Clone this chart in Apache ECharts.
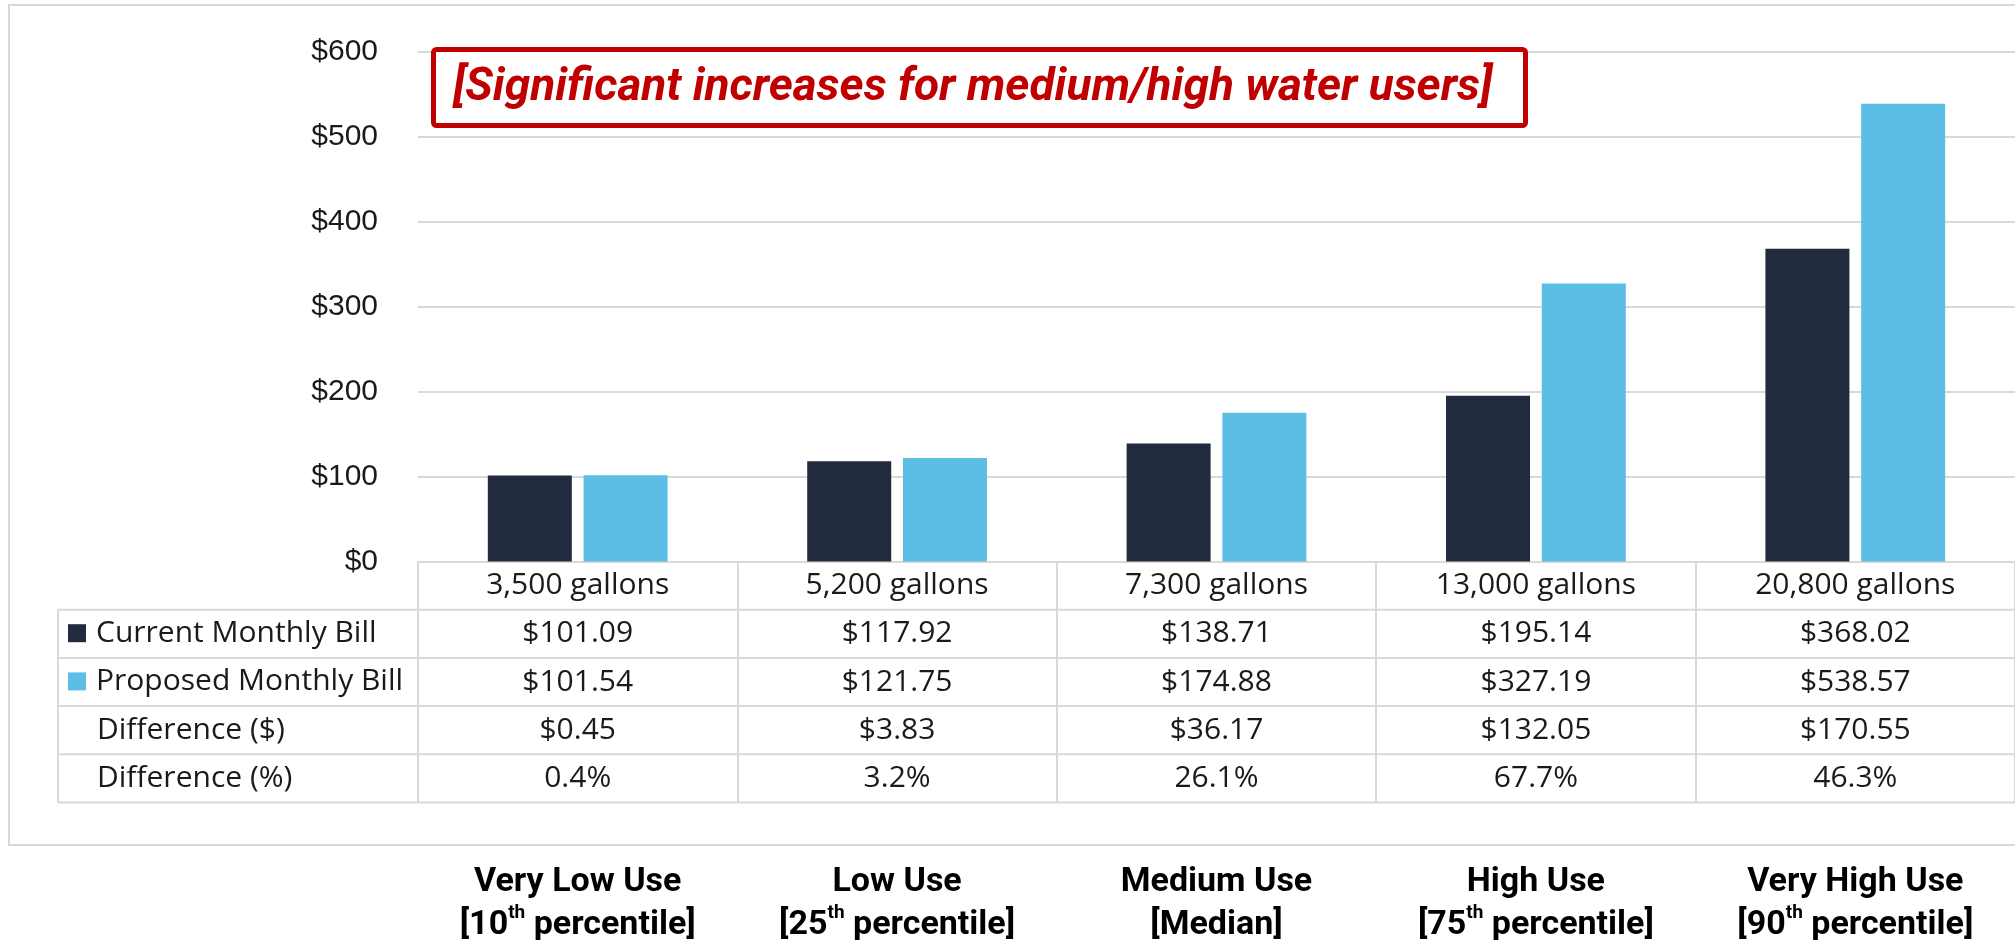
<!DOCTYPE html>
<html>
<head>
<meta charset="utf-8">
<title>Current vs proposed monthly bill</title>
<script src="https://cdn.jsdelivr.net/npm/echarts@6/dist/echarts.min.js"></script>
<style>
html, body { margin: 0; padding: 0; background: #fff; }
#main { width: 2015px; height: 940px; }
</style>
</head>
<body>
<div id="main"></div>
<script>
var gallons = ['3,500 gallons', '5,200 gallons', '7,300 gallons', '13,000 gallons', '20,800 gallons'];
var useLevels = ['Very Low Use', 'Low Use', 'Medium Use', 'High Use', 'Very High Use'];
var percentiles = [['10', 'th'], ['25', 'th'], ['Median', ''], ['75', 'th'], ['90', 'th']];
var currentBill = [101.09, 117.92, 138.71, 195.14, 368.02];
var proposedBill = [101.54, 121.75, 174.88, 327.19, 538.57];
var diffDollar = ['$0.45', '$3.83', '$36.17', '$132.05', '$170.55'];
var diffPct = ['0.4%', '3.2%', '26.1%', '67.7%', '46.3%'];
var seriesNames = ['Current Monthly Bill', 'Proposed Monthly Bill'];
var extraRows = ['Difference ($)', 'Difference (%)'];
var yMin = 0, yMax = 600, yStep = 100;

var darkBlue = '#212B3D';
var lightBlue = '#5DBEE5';
var lineGrey = '#D9D9D9';
var tableFont = "'Open Sans', sans-serif";

// table geometry (the x axis line is the top of the table)
var gridLeft = 418, gridTop = 51.5, axisY = 561.5;
var rowH = 48.2;
var tableLeft = 58;

function money(v) { return '$' + v.toFixed(2); }

var graphics = [];
// outer frame
graphics.push({
    type: 'rect', silent: true, z: -1,
    shape: { x: 9, y: 5, width: 2030, height: 840 },
    style: { fill: 'none', stroke: lineGrey, lineWidth: 2 }
});
// horizontal table lines below the header row
for (var r = 1; r <= 5; r++) {
    graphics.push({
        type: 'line', silent: true,
        shape: { x1: tableLeft, y1: axisY + r * rowH, x2: 2015, y2: axisY + r * rowH },
        style: { stroke: lineGrey, lineWidth: 2 }
    });
}
graphics.push({
    type: 'line', silent: true,
    shape: { x1: tableLeft, y1: axisY + rowH, x2: tableLeft, y2: axisY + 5 * rowH },
    style: { stroke: lineGrey, lineWidth: 2 }
});
extraRows.forEach(function (t, i) {
    graphics.push({
        type: 'text', silent: true,
        x: 97, y: axisY + (3.5 + i) * rowH,
        style: { text: t, fontFamily: tableFont, fontSize: 30, fill: '#1a1a1a', verticalAlign: 'middle' }
    });
});
// annotation box
graphics.push({
    type: 'rect', silent: true, z: 100,
    shape: { x: 433.5, y: 49.5, width: 1092, height: 76, r: 3 },
    style: { fill: '#fff', stroke: '#C00000', lineWidth: 5 }
});
graphics.push({
    type: 'text', silent: true, z: 101,
    x: 453, y: 88,
    style: {
        text: '[Significant increases for medium/high water users]',
        fontFamily: 'Roboto', fontStyle: 'italic', fontWeight: 'bold', fontSize: 46,
        fill: '#C00000', verticalAlign: 'middle'
    }
});

var option = {
    animation: false,
    backgroundColor: '#fff',
    grid: {
        left: gridLeft, right: 0, top: gridTop, bottom: 940 - axisY,
        containLabel: false, outerBoundsMode: 'none'
    },
    legend: {
        orient: 'vertical', left: 68, top: axisY + rowH + 8.5,
        padding: 0,
        itemWidth: 18, itemHeight: 18, itemGap: rowH - 30,
        icon: 'rect', selectedMode: false,
        data: seriesNames,
        textStyle: { fontFamily: tableFont, fontSize: 30, lineHeight: 30, color: '#1a1a1a', padding: [0, 0, 0, 5] }
    },
    xAxis: [{
        type: 'category',
        data: gallons,
        axisLine: { show: true, lineStyle: { color: lineGrey, width: 2 } },
        axisTick: { show: true, length: 5 * rowH, interval: 0, lineStyle: { color: lineGrey, width: 2 } },
        axisLabel: {
            interval: 0, margin: 0,
            formatter: function (v, i) {
                return ['{t|' + v + '}', '{t|' + money(currentBill[i]) + '}', '{t|' + money(proposedBill[i]) + '}',
                    '{t|' + diffDollar[i] + '}', '{t|' + diffPct[i] + '}'].join('\n');
            },
            rich: { t: { fontFamily: tableFont, fontSize: 30, lineHeight: rowH, color: '#1a1a1a' } }
        }
    }, {
        type: 'category',
        position: 'bottom',
        offset: 290,
        data: useLevels,
        axisLine: { show: false },
        axisTick: { show: false },
        axisLabel: {
            interval: 0, margin: 9,
            formatter: function (v, i) {
                var p = percentiles[i];
                var second = p[1] ? '{b|[' + p[0] + '}{s|' + p[1] + '}{b| percentile]}' : '{b|[' + p[0] + ']}';
                return '{b|' + v + '}\n' + second;
            },
            rich: {
                b: { fontFamily: 'Roboto', fontWeight: 'bold', fontSize: 34, lineHeight: 43, color: '#000' },
                s: { fontFamily: 'Roboto', fontWeight: 'bold', fontSize: 19, lineHeight: 19, color: '#000', verticalAlign: 'top' }
            }
        }
    }],
    yAxis: {
        type: 'value',
        min: yMin, max: yMax, interval: yStep,
        axisLine: { show: false },
        axisTick: { show: false },
        splitLine: { lineStyle: { color: lineGrey, width: 2 } },
        axisLabel: {
            margin: 40,
            fontFamily: "'Liberation Sans', Arial, sans-serif", fontSize: 30, color: '#1a1a1a',
            formatter: function (v) { return '$' + v; }
        }
    },
    series: [{
        name: seriesNames[0], type: 'bar', data: currentBill,
        barWidth: 84, barGap: '14%',
        itemStyle: { color: darkBlue }
    }, {
        name: seriesNames[1], type: 'bar', data: proposedBill,
        barWidth: 84, barGap: '14%',
        itemStyle: { color: lightBlue }
    }],
    graphic: graphics
};

var myChart = echarts.init(document.getElementById('main'));
myChart.setOption(option);
</script>
</body>
</html>
